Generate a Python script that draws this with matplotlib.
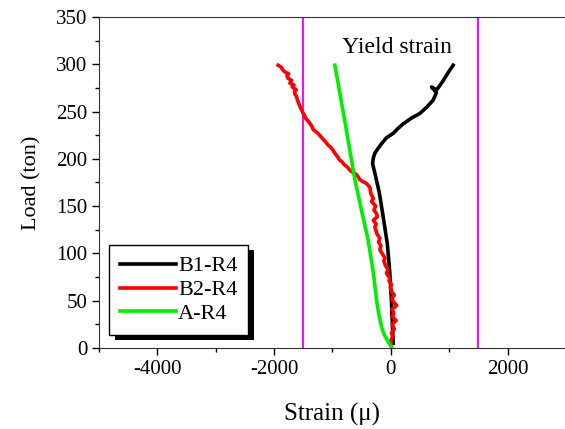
import matplotlib
matplotlib.use('Agg')
import matplotlib.pyplot as plt
from matplotlib.patches import Rectangle
from matplotlib.ticker import MultipleLocator

plt.rcParams['font.family'] = ['Liberation Serif', 'DejaVu Serif']
plt.rcParams['axes.unicode_minus'] = False

# B1-R4 (black)
b1_strain = [40, 30, 10, -17, -60, -132, -200, -274, -313, -300, -274, -220, -160,
             -80, 40, 120, 211, 350, 497, 620, 724, 780, 697, 780, 810, 900, 980, 1067]
b1_load = [5, 20, 50, 79, 110, 139, 165, 185, 195, 201, 206, 211, 216,
           222, 227, 232, 237, 243, 248, 255, 262, 270, 276, 273, 275, 283, 291, 299]

# B2-R4 (red, noisy)
b2_strain = [10, 0, 30, 10, 60, 20, 90, 30, 50, 20, 100, 40, 20, 60, 30, 11,
             -10, 10, -30, -20, -74, -50, -90, -120, -100, -150, -188, -170,
             -210, -190, -240, -274, -250, -300, -230, -245, -290, -260, -331,
             -300, -340, -360, -420, -480, -531, -560, -600, -660, -702, -740,
             -800, -840, -880, -910, -960, -1000, -1045, -1080, -1120, -1150,
             -1180, -1220, -1250, -1290, -1330, -1350, -1380, -1420, -1460,
             -1480, -1502, -1520, -1540, -1560, -1580, -1600, -1615, -1640,
             -1650, -1620, -1690, -1660, -1730, -1700, -1760, -1780, -1750,
             -1820, -1850, -1880, -1930]
b2_load = [3, 8, 12, 16, 20, 25, 29, 33, 37, 41, 45, 49, 53, 56, 58, 60,
           64, 67, 71, 74, 79, 83, 87, 92, 95, 100, 104, 108,
           112, 116, 121, 128, 131, 135, 139, 142, 146, 150, 155,
           158, 163, 170, 174, 176, 178, 181, 184, 186, 188, 191,
           194, 197, 199, 202, 206, 210, 213, 215, 218, 220,
           222, 225, 227, 229, 231, 234, 237, 240, 243,
           246, 248, 251, 253, 256, 259, 262, 266, 268,
           271, 273, 276, 278, 280, 283, 285, 288, 290,
           292, 294, 297, 299]

# A-R4 (green)
a_strain = [10, -60, -120, -160, -210, -245, -300, -389, -500, -616, -780, -959]
a_load = [1, 8, 15, 22.5, 37, 51, 80, 114, 145, 178, 237, 299]

yield_strain = [-1500, 1500]

fig = plt.figure(figsize=(5.65, 4.29), dpi=100)
ax = fig.add_axes([0.1752, 0.1888, 0.8265, 0.7716])

for xv in yield_strain:
    ax.axvline(xv, color='#ff00ff', lw=1.4, zorder=1)

ax.plot(b1_strain, b1_load, color='black', lw=2.6, label='B1-R4', zorder=3)
ax.plot(b2_strain, b2_load, color='#ff0000', lw=2.6, label='B2-R4', zorder=3)
ax.plot(a_strain, a_load, color='#00ee00', lw=2.6, label='A-R4', zorder=3)

ax.text(110, 318, 'Yield strain', fontsize=17, ha='center', va='center')

ax.set_xlim(-5000, 3000)
ax.set_ylim(0, 350)
ax.xaxis.set_major_locator(MultipleLocator(2000))
ax.xaxis.set_minor_locator(MultipleLocator(1000))
ax.yaxis.set_major_locator(MultipleLocator(50))
ax.yaxis.set_minor_locator(MultipleLocator(25))
ax.tick_params(which='major', direction='out', length=5, width=1, labelsize=15)
ax.tick_params(which='minor', direction='out', length=3, width=1)
ax.spines['right'].set_visible(False)
for s in ['top', 'left', 'bottom']:
    ax.spines[s].set_color('#333333')

ax.set_xlabel('Strain (\u03bc)', fontsize=18, labelpad=17)
ax.set_ylabel('Load (ton)', fontsize=16, labelpad=10)

leg = ax.legend(loc='lower left', bbox_to_anchor=(0.012, 0.025), fontsize=16,
                frameon=True, fancybox=False, framealpha=1, edgecolor='black',
                handlelength=2.5, handletextpad=0.1, borderpad=0.5,
                labelspacing=0.15, borderaxespad=0.2)
leg.get_frame().set_linewidth(1.0)
leg.set_zorder(6)

# solid black shadow behind the legend box
fig.canvas.draw()
bb = leg.get_window_extent().transformed(fig.transFigure.inverted())
dx, dy = 6 / 565, -5 / 429
shadow = Rectangle((bb.x0 + dx, bb.y0 + dy), bb.width, bb.height,
                   transform=fig.transFigure, facecolor='black', edgecolor='none',
                   zorder=5.5)
ax.add_artist(shadow)

fig.savefig('out.png', dpi=100)
